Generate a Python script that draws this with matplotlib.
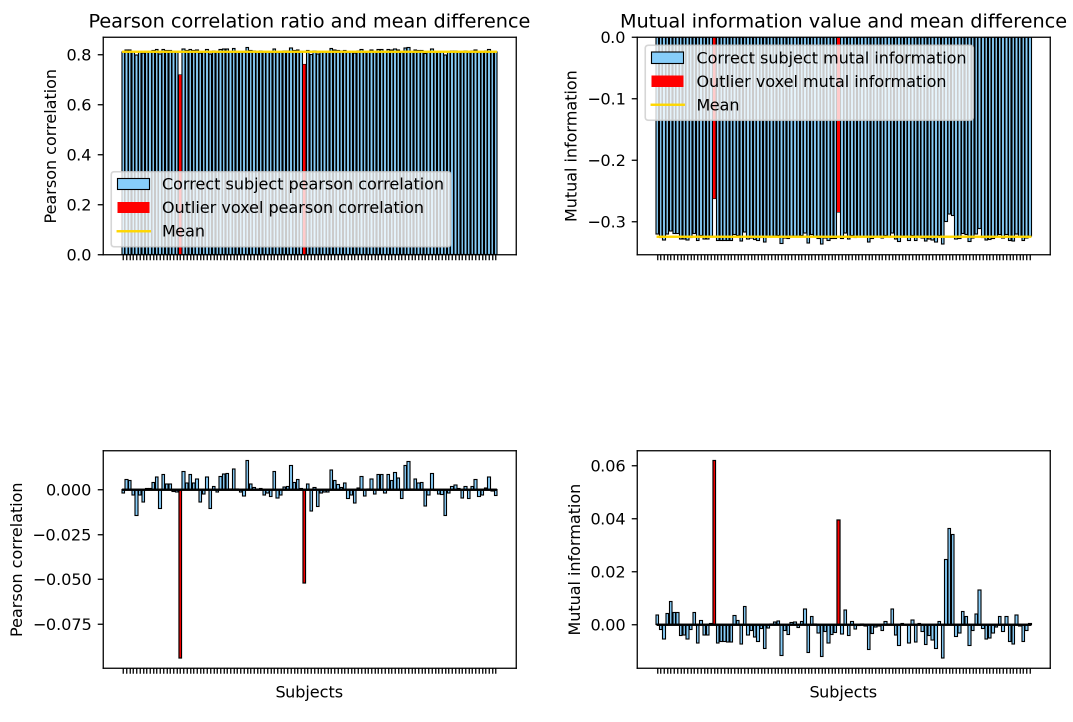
import io
import numpy as np
import matplotlib
matplotlib.use("Agg")
import matplotlib.pyplot as plt
from matplotlib.ticker import MultipleLocator

# Per-subject deviation from the group mean
pearson_diff = [
    -0.002, 0.0056, 0.005, -0.003, -0.0144, -0.003, -0.007, 0.0005, 0.0005, 0.004,
    0.007, -0.0107, 0.0083, 0.003, 0.003, -0.001, -0.0013, -0.094, 0.010, 0.0037,
    0.0083, 0.0037, 0.006, -0.007, -0.0024, 0.007, -0.0107, 0.0018, -0.0015, 0.0074,
    0.0087, 0.009, 0.0002, 0.0115, 0.0004, -0.0015, -0.0037, 0.0163, 0.003, 0.001,
    0.0002, 0.0007, -0.003, -0.002, -0.004, 0.010, -0.0046, -0.003, 0.0013, 0.0018,
    0.0135, 0.004, 0.0055, 0.0005, -0.052, 0.003, -0.012, 0.001, -0.0096, -0.002,
    -0.0015, -0.0015, 0.011, 0.005, 0.0028, 0.001, 0.0037, -0.005, -0.003, -0.0074,
    0.0008, 0.0074, -0.0037, 0.0004, 0.006, -0.0024, 0.0083, 0.0083, -0.0018, 0.0083,
    0.005, 0.0096, 0.0065, -0.005, 0.0133, 0.0157, 0.0003, 0.006, 0.0037, 0.004,
    -0.0093, -0.003, 0.009, -0.0006, -0.0024, -0.0028, -0.0144, -0.0018, 0.0018, 0.0024,
    0.0006, -0.0046, 0.0018, -0.005, 0.0018, 0.0055, -0.004, -0.003, 0.0008, 0.007,
    -0.0009, -0.0033,
]

mi_diff = [
    0.0037, -0.0019, -0.0054, 0.0042, 0.0087, 0.0046, 0.0046, -0.0041, -0.0039, -0.0054,
    -0.0019, 0.0046, -0.0069, 0.0015, -0.0039, -0.0038, 0.0005, 0.062, -0.0069, -0.0064,
    -0.0064, -0.0066, -0.0066, 0.0034, 0.0015, -0.0072, 0.0069, -0.0039, -0.0022, -0.0047,
    -0.0064, -0.0015, -0.0089, -0.0012, 0.0002, 0.0011, 0.0013, -0.0116, -0.0022, -0.0037,
    0.0009, 0.0011, -0.001, 0.0012, 0.0059, -0.0104, 0.003, 0.0003, -0.0031, -0.012,
    -0.0026, -0.0069, -0.0037, -0.003, 0.0395, -0.0035, 0.0055, -0.004, 0.0012, -0.0016,
    -0.0003, 0.0002, -0.0004, -0.0094, -0.0033, -0.0008, -0.0004, -0.0022, 0.0012, 0.0002,
    0.0059, -0.0039, -0.0079, 0.0005, 0.0001, -0.0069, 0.0018, -0.0066, 0.0005, -0.0026,
    -0.0075, -0.0041, -0.0058, -0.0089, 0.0012, -0.0126, 0.0246, 0.0363, 0.034, -0.0045,
    -0.0031, 0.005, 0.003, -0.0079, -0.0022, 0.004, 0.0131, -0.0014, -0.0054, -0.005,
    -0.0031, -0.0008, 0.003, -0.0026, 0.003, -0.0064, -0.0072, 0.0037, -0.0004, -0.0064,
    -0.0022, 0.0005,
]

pearson_mean = 0.8132
mi_mean = -0.3242
outlier_subjects = [17, 54]

pearson_diff = np.array(pearson_diff)
mi_diff = np.array(mi_diff)
pearson_values = pearson_mean + pearson_diff
mi_values = mi_mean + mi_diff

n = len(pearson_values)
x = np.arange(n)
outl = np.array(outlier_subjects)

W, H = 1073, 722
DPI = 115
fig, axes = plt.subplots(2, 2, figsize=(W / DPI, H / DPI), dpi=DPI)
fig.subplots_adjust(left=0.096, right=0.9786, top=0.9488, bottom=0.0748,
                    wspace=0.294, hspace=0.90)
(ax1, ax2), (ax3, ax4) = axes

bar_kw = dict(color="lightskyblue", edgecolor="black", linewidth=0.7, width=0.8)
red_kw = dict(color="red", edgecolor="black", linewidth=0.7, width=0.8)


def ordered_legend(ax, loc):
    handles, labels = ax.get_legend_handles_labels()
    # bars first, mean line last
    order = [1, 2, 0]
    ax.legend([handles[i] for i in order], [labels[i] for i in order], loc=loc)


# Pearson correlation per subject
ax1.bar(x, pearson_values, label="Correct subject pearson correlation", **bar_kw)
ax1.bar(outl, pearson_values[outl], color="red", width=0.8,
        label="Outlier voxel pearson correlation")
ax1.plot(x, np.full(n, pearson_mean), color="gold", label="Mean")
ax1.set_title("Pearson correlation ratio and mean difference")
ax1.set_ylabel("Pearson correlation")
ordered_legend(ax1, "lower left")

# Mutual information per subject
ax2.bar(x, mi_values, label="Correct subject mutal information", **bar_kw)
ax2.bar(outl, mi_values[outl], color="red", width=0.8,
        label="Outlier voxel mutal information")
ax2.plot(x, np.full(n, mi_mean), color="gold", label="Mean")
ax2.set_title("Mutual information value and mean difference")
ax2.set_ylabel("Mutual information")
ordered_legend(ax2, "upper left")

# Differences from the mean
ax3.bar(x, pearson_diff, **bar_kw)
ax3.bar(outl, pearson_diff[outl], **red_kw)
ax3.plot(x, np.zeros(n), color="black")
ax3.set_ylabel("Pearson correlation")
ax3.set_xlabel("Subjects")
ax3.yaxis.set_major_locator(MultipleLocator(0.025))

ax4.bar(x, mi_diff, **bar_kw)
ax4.bar(outl, mi_diff[outl], **red_kw)
ax4.plot(x, np.zeros(n), color="black")
ax4.set_ylabel("Mutual information")
ax4.set_xlabel("Subjects")

for ax in (ax1, ax2, ax3, ax4):
    ax.set_xticks(x)
    ax.set_xticklabels([])

# Render at double resolution and average down for smoother thin bar edges
buf = io.BytesIO()
fig.savefig(buf, format="png", dpi=DPI * 2)
buf.seek(0)
big = plt.imread(buf)[:, :, :3]
big = big[: 2 * H, : 2 * W]
if big.shape[0] < 2 * H or big.shape[1] < 2 * W:
    pad = np.ones((2 * H, 2 * W, 3), dtype=big.dtype)
    pad[: big.shape[0], : big.shape[1]] = big
    big = pad
small = big.reshape(H, 2, W, 2, 3).mean(axis=(1, 3))
plt.imsave("out.png", np.clip(small, 0, 1))
